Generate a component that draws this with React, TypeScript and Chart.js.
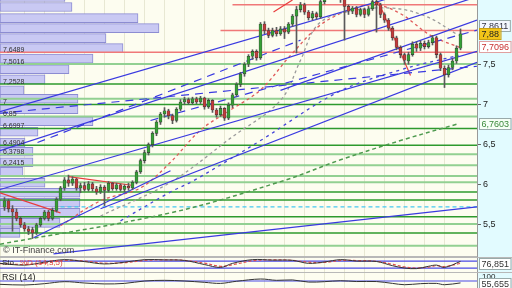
import React, { useEffect, useRef } from "react";
import { Chart, registerables } from "chart.js";

Chart.register(...registerables);

// ---------- price data (daily candles) ----------
const OPEN = [5.72,5.80,5.70,5.66,5.58,5.50,5.45,5.44,5.40,5.50,5.58,5.66,5.58,5.68,5.82,5.96,6.06,6.02,6.07,5.96,5.99,5.94,6.01,5.95,5.91,5.97,5.93,6.02,5.95,6.00,5.94,5.98,5.96,6.03,6.16,6.30,6.40,6.50,6.64,6.78,6.88,6.92,6.86,6.80,6.94,7.03,7.06,7.02,7.07,7.03,7.08,6.97,7.05,6.93,6.87,6.95,6.83,6.99,7.12,7.25,7.38,7.50,7.60,7.66,7.58,8.00,7.92,7.86,7.92,7.88,7.94,7.90,8.00,8.10,8.18,8.24,8.15,8.08,8.13,8.09,8.28,8.37,8.42,8.38,8.35,8.31,8.22,8.16,8.20,8.12,8.18,8.12,8.19,8.28,8.24,8.12,8.05,7.95,7.83,7.71,7.62,7.54,7.62,7.75,7.70,7.76,7.72,7.77,7.83,7.62,7.45,7.37,7.46,7.54,7.70];
const HIGH = [5.84,5.82,5.74,5.70,5.60,5.53,5.48,5.47,5.52,5.60,5.68,5.68,5.71,5.84,5.98,6.09,6.12,6.10,6.08,6.02,6.03,6.04,6.03,5.98,6.00,5.99,6.04,6.03,6.02,6.01,6.00,6.02,6.05,6.18,6.32,6.43,6.52,6.66,6.80,6.90,6.96,6.94,6.88,6.96,7.06,7.09,7.08,7.09,7.09,7.10,7.09,7.07,7.06,6.95,6.98,6.96,7.02,7.14,7.27,7.40,7.52,7.62,7.68,7.68,8.02,8.03,7.95,7.95,7.96,7.97,7.97,8.02,8.12,8.22,8.27,8.26,8.17,8.16,8.15,8.32,8.40,8.46,8.45,8.41,8.38,8.33,8.24,8.22,8.22,8.20,8.20,8.22,8.32,8.36,8.26,8.14,8.07,7.97,7.85,7.73,7.64,7.65,7.78,7.78,7.79,7.79,7.80,7.86,7.85,7.64,7.48,7.49,7.57,7.73,7.94];
const LOW = [5.68,5.66,5.42,5.55,5.47,5.42,5.38,5.33,5.38,5.48,5.56,5.55,5.56,5.66,5.80,5.93,5.98,5.99,5.93,5.90,5.92,5.92,5.92,5.88,5.89,5.74,5.91,5.93,5.93,5.92,5.91,5.93,5.94,6.01,6.14,6.27,6.37,6.47,6.61,6.75,6.84,6.82,6.76,6.78,6.92,7.00,7.00,7.00,7.01,7.01,6.94,6.95,6.90,6.84,6.85,6.80,6.81,6.96,7.10,7.22,7.35,7.47,7.56,7.55,7.56,7.88,7.83,7.84,7.85,7.86,7.82,7.88,7.97,7.64,8.15,8.12,8.05,8.05,8.06,8.07,8.25,8.33,8.34,8.31,8.27,7.80,8.12,8.13,8.09,8.10,8.08,8.10,8.17,7.90,8.08,8.02,7.92,7.80,7.68,7.58,7.50,7.50,7.60,7.66,7.67,7.69,7.70,7.74,7.58,7.42,7.21,7.34,7.43,7.51,7.68];
const CLOSE = [5.80,5.70,5.66,5.58,5.50,5.45,5.42,5.40,5.50,5.58,5.66,5.58,5.68,5.82,5.96,6.06,6.02,6.07,5.96,5.99,5.94,6.01,5.95,5.91,5.97,5.93,6.02,5.95,6.00,5.94,5.98,5.96,6.03,6.16,6.30,6.40,6.50,6.64,6.78,6.88,6.92,6.86,6.80,6.94,7.03,7.06,7.02,7.07,7.03,7.08,6.97,7.05,6.93,6.87,6.95,6.83,6.99,7.12,7.25,7.38,7.50,7.60,7.66,7.58,8.00,7.92,7.86,7.92,7.88,7.94,7.90,8.00,8.10,8.18,8.24,8.15,8.08,8.13,8.09,8.28,8.37,8.42,8.38,8.35,8.31,8.22,8.16,8.20,8.12,8.18,8.12,8.19,8.28,8.24,8.12,8.05,7.95,7.83,7.71,7.62,7.55,7.62,7.75,7.70,7.76,7.72,7.77,7.83,7.62,7.45,7.37,7.46,7.54,7.70,7.88];

// ---------- axis ranges ----------
const X_MIN = -1.125;
const X_MAX = 118.125;
const Y_MIN = 5.1;
const Y_MAX = 8.3;
const Y_TICKS = [5.5, 6, 6.5, 7, 7.5];

// ---------- horizontal levels ----------
const GREEN_MAJOR = [7.2528, 7.0, 6.6997, 6.4904, 5.91, 5.81, 5.6, 5.4];
const GREEN_MINOR = [7.5016, 7.07, 6.85, 6.3798, 6.2415, 6.11, 6.03, 5.51, 5.24];
const RED_LEVELS = [8.24, 7.92, 7.6489];
const RED_FROM = [57, 54, -1.125];
const CYAN_LEVEL = 5.725;
const CYAN_FROM = 14;

// ---------- trend lines [i0, v0, i1, v1] ----------
const BLUE_SOLID = [
  [-1.125, 6.91, 118.125, 8.64],
  [-1.125, 6.425, 118.125, 8.34],
  [-1.125, 5.94, 118.125, 7.66],
  [7.25, 5.34, 41.5, 6.175],
  [24, 5.7, 118.125, 7.525],
  [12.25, 5.14, 118.125, 5.725],
  [69, 7.175, 118.125, 8.05],
];
const BLUE_DASHED = [
  [-1.125, 6.89, 118.125, 7.475],
  [8.25, 6.525, 74, 7.8],
  [36.5, 6.8, 118.125, 7.925],
];
const RED_TRENDS = [
  [16, 6.1, 32.25, 5.99],
  [-1.125, 5.9, 14, 5.65],
  [93.5, 8.275, 101.5, 7.36],
  [67.25, 8.15, 72, 8.3],
];

// ---------- moving averages ----------
const MA20_IDX = [14, 24, 34, 41.5, 49, 56.5, 64, 71.5, 79, 86.5, 92.75, 99, 106.5, 113.75];
const MA20 = [5.49, 5.8, 5.96, 6.28, 6.68, 6.93, 7.18, 7.61, 7.99, 8.18, 8.24, 8.13, 7.86, 7.71];
const MA50_IDX = [24, 41.5, 56.5, 69, 74, 78.25, 85.25, 96.5, 105.25, 113.5];
const MA50 = [5.61, 6.03, 6.58, 7.05, 7.55, 7.99, 8.15, 8.2, 8.1, 7.86];
const MA100_IDX = [29, 41.5, 47.25, 64, 83.25, 99, 113.5];
const MA100 = [5.55, 5.91, 6.05, 6.55, 7.15, 7.43, 7.61];
const MA200_IDX = [-1.125, 41.5, 69.75, 84, 99, 113.5];
const MA200 = [5.26, 5.65, 6.05, 6.31, 6.55, 6.76];

// ---------- volume by price ----------
const VP_PRICE = [8.3375, 8.2125, 8.075, 7.95, 7.825, 7.7, 7.57, 7.4375, 7.3125, 7.175, 7.07, 6.94, 6.79, 6.66, 6.525, 6.41, 6.28, 6.16, 6.025, 5.9, 5.775, 5.65, 5.525, 5.4];
const VP_SIZE = [65, 72, 138, 159, 106, 123, 93, 69, 45, 24, 78, 78, 93, 38, 25, 33, 33, 23, 45, 80, 80, 80, 60, 20];
const VP_LABELS = ["7,6489", "7,5016", "7,2528", "7", "6,85", "6,6997", "6,4904", "6,3798", "6,2415"];
const VP_LABEL_VALUES = [7.6489, 7.5016, 7.2528, 7, 6.85, 6.6997, 6.4904, 6.3798, 6.2415];

// ---------- right-side value tags ----------
const TAG_TEXT = ["7,8611", "7,88", "7,7096", "6,7603"];
const TAG_VALUE = [7.8611, 7.88, 7.7096, 6.7603];

// ---------- stochastic ----------
const STO_IDX = [-1.125, 5, 10, 15, 20, 25, 30, 35, 40, 45, 50, 54, 57, 62, 67, 72, 76, 80, 84, 88, 93, 97, 100, 103, 106, 108, 110, 114];
const STO_K = [60, 45, 70, 92, 75, 55, 70, 92, 90, 85, 50, 25, 60, 92, 88, 86, 60, 72, 92, 80, 76, 40, 20, 15, 35, 45, 25, 76.851];
const STO_D = [58, 50, 62, 85, 80, 62, 66, 85, 90, 86, 62, 35, 48, 82, 90, 86, 70, 68, 85, 84, 78, 52, 30, 20, 28, 40, 32, 60];
const STO_LEVELS = [80, 20];

// ---------- RSI ----------
const RSI_IDX = [-1.125, 5, 10, 15, 20, 25, 30, 35, 40, 45, 50, 54, 58, 64, 68, 72, 76, 80, 84, 88, 93, 97, 100, 104, 108, 110, 114];
const RSI = [45, 40, 50, 65, 55, 48, 52, 70, 75, 70, 60, 52, 68, 85, 75, 78, 62, 65, 72, 66, 66, 52, 42, 50, 52, 42, 55.655];
const RSI_LEVELS = [70];

const FONT = "'Liberation Sans', Arial, sans-serif";
const PLOT_BG = "#fdfdf0";
const SIDE_BG = "#e2fbff";

const seg = (a: number[]) => [{ x: a[0], y: a[1] }, { x: a[2], y: a[3] }];
const pts = (xs: number[], ys: number[]) => xs.map((x, i) => ({ x, y: ys[i] }));

const lineDs = (data: any[], color: string, width: number, dash: number[], order: number, smooth = false) => ({
  type: "line" as const,
  data,
  borderColor: color,
  borderWidth: width,
  borderDash: dash,
  pointRadius: 0,
  fill: false,
  tension: smooth ? 0.35 : 0,
  order,
  xAxisID: "x",
  yAxisID: "y",
});

const xScale = () => ({
  type: "linear",
  min: X_MIN,
  max: X_MAX,
  offset: false,
  ticks: { display: false, stepSize: 5 },
  grid: { color: "#e8e8d3", drawTicks: false, lineWidth: 1, offset: false },
  border: { display: false },
  afterFit: (s: any) => { s.height = 0; },
});

function bgPlugin(id: string) {
  return {
    id,
    beforeDraw(chart: any) {
      const { ctx, chartArea: a, width, height } = chart;
      ctx.save();
      ctx.fillStyle = SIDE_BG;
      ctx.fillRect(0, 0, width, height);
      ctx.fillStyle = PLOT_BG;
      ctx.fillRect(a.left, a.top, a.right - a.left, a.bottom - a.top);
      ctx.restore();
    },
  };
}

function drawTag(ctx: any, x: number, y: number, text: string, bg: string, fg: string, border: string) {
  ctx.font = `9px ${FONT}`;
  const w = ctx.measureText(text).width + 4;
  const top = Math.round(y - 6) + 0.5;
  ctx.fillStyle = bg;
  ctx.fillRect(x, top, w, 11);
  ctx.strokeStyle = border;
  ctx.lineWidth = 1;
  ctx.strokeRect(x + 0.5, top, w, 11);
  ctx.fillStyle = fg;
  ctx.textBaseline = "middle";
  ctx.textAlign = "left";
  ctx.fillText(text, x + 2.5, top + 6);
}

const mainDecor = {
  id: "mainDecor",
  afterDatasetsDraw(chart: any) {
    const { ctx } = chart;
    const ys = chart.scales.y;
    ctx.save();
    ctx.font = `7px ${FONT}`;
    ctx.fillStyle = "#333";
    ctx.textAlign = "left";
    ctx.textBaseline = "bottom";
    VP_LABELS.forEach((t, i) => {
      ctx.fillText(t, 3, ys.getPixelForValue(VP_LABEL_VALUES[i]) + 1);
    });
    ctx.font = `9px ${FONT}`;
    ctx.fillStyle = "#444";
    ctx.textBaseline = "middle";
    ctx.fillText("\u00a9 IT-Finance.com", 3, 251);
    ctx.restore();
  },
  afterDraw(chart: any) {
    const { ctx, chartArea: a } = chart;
    const ys = chart.scales.y;
    ctx.save();
    ctx.strokeStyle = "#b8b8b8";
    ctx.lineWidth = 1;
    ctx.beginPath();
    ctx.moveTo(a.left, a.bottom - 0.5);
    ctx.lineTo(a.right, a.bottom - 0.5);
    ctx.stroke();
    const x = a.right + 2;
    const styles = [
      ["#f4f8ff", "#334", "#9aa"],
      ["#f2c418", "#222", "#c9a010"],
      ["#ffffff", "#c83030", "#e0a0a0"],
      ["#f6fff6", "#3a8a3a", "#9aa"],
    ];
    const y0 = ys.getPixelForValue(TAG_VALUE[0]);
    const y1 = ys.getPixelForValue(TAG_VALUE[1]);
    const pos = [Math.min(y0, y1 - 8), y1, ys.getPixelForValue(TAG_VALUE[2]), ys.getPixelForValue(TAG_VALUE[3])];
    [0, 2, 3, 1].forEach((k) => {
      const s = styles[k];
      drawTag(ctx, x, pos[k], TAG_TEXT[k], s[0], s[1], s[2]);
    });
    ctx.restore();
  },
};

function stoDecor() {
  return {
    id: "stoDecor",
    afterDraw(chart: any) {
      const { ctx, chartArea: a } = chart;
      const ys = chart.scales.y;
      ctx.save();
      ctx.strokeStyle = "#b8b8b8";
      ctx.beginPath();
      ctx.moveTo(0, a.top - 0.5);
      ctx.lineTo(chart.width, a.top - 0.5);
      ctx.stroke();
      ctx.font = `8px ${FONT}`;
      ctx.textBaseline = "middle";
      ctx.fillStyle = "#222";
      ctx.fillText("Sto", 2, a.top + 5);
      ctx.fillStyle = "#e04848";
      ctx.fillText("%D (14,3,5)", 20, a.top + 5);
      const last = STO_K[STO_K.length - 1];
      const y = Math.max(a.top + 6, ys.getPixelForValue(last));
      drawTag(ctx, a.right + 2, y, "76,851", "#ffffff", "#333", "#9aa");
      ctx.restore();
    },
  };
}

function rsiDecor() {
  return {
    id: "rsiDecor",
    afterDraw(chart: any) {
      const { ctx, chartArea: a } = chart;
      const ys = chart.scales.y;
      ctx.save();
      ctx.strokeStyle = "#b8b8b8";
      ctx.beginPath();
      ctx.moveTo(0, a.top - 0.5);
      ctx.lineTo(chart.width, a.top - 0.5);
      ctx.stroke();
      ctx.font = `9px ${FONT}`;
      ctx.textBaseline = "middle";
      ctx.fillStyle = "#222";
      ctx.fillText("RSI (14)", 2, a.top + 5);
      ctx.font = `8px ${FONT}`;
      ctx.fillText("100", a.right + 5, ys.getPixelForValue(100));
      const last = RSI[RSI.length - 1];
      drawTag(ctx, a.right + 2, ys.getPixelForValue(last) + 1, "55,655", "#ffffff", "#333", "#9aa");
      ctx.restore();
    },
  };
}

function buildMain(canvas: HTMLCanvasElement) {
  const up = CLOSE.map((c, i) => c >= OPEN[i]);
  const datasets: any[] = [];
  // volume-by-price histogram
  datasets.push({
    type: "bar",
    indexAxis: "y",
    data: VP_PRICE.map((p, i) => ({ x: VP_SIZE[i], y: p })),
    backgroundColor: "#c9c9f3",
    borderColor: "#8c8cd2",
    borderWidth: 1,
    borderSkipped: false,
    barThickness: 9,
    grouped: false,
    order: 100,
    xAxisID: "xv",
    yAxisID: "y",
  });
  GREEN_MINOR.forEach((v) => datasets.push(lineDs(seg([X_MIN, v, X_MAX, v]), "#92d092", 2, [], 60)));
  GREEN_MAJOR.forEach((v) => datasets.push(lineDs(seg([X_MIN, v, X_MAX, v]), "#2e9a2e", 1.5, [], 59)));
  datasets.push(lineDs(seg([CYAN_FROM, CYAN_LEVEL, X_MAX, CYAN_LEVEL]), "#44c8f0", 1.2, [4, 3], 58));
  RED_LEVELS.forEach((v, i) => datasets.push(lineDs(seg([RED_FROM[i], v, X_MAX, v]), "#f07878", 1.5, [], 57)));
  datasets.push(lineDs(pts(MA200_IDX, MA200), "#4f9a4f", 1.5, [4, 3], 40, true));
  datasets.push(lineDs(pts(MA100_IDX, MA100), "#4646d8", 1.3, [3, 4], 40, true));
  datasets.push(lineDs(pts(MA50_IDX, MA50), "#9c9c9c", 1.3, [3, 3], 40, true));
  datasets.push(lineDs(pts(MA20_IDX, MA20), "#e05a5a", 1.3, [3, 3], 40, true));
  BLUE_SOLID.forEach((l) => datasets.push(lineDs(seg(l), "#3a3ae0", 1.2, [], 20)));
  BLUE_DASHED.forEach((l) => datasets.push(lineDs(seg(l), "#3a3ae0", 1.2, [8, 6], 20)));
  RED_TRENDS.forEach((l) => datasets.push(lineDs(seg(l), "#e83c3c", 1.2, [], 20)));
  // candles
  datasets.push({
    type: "bar",
    data: CLOSE.map((_, i) => ({ x: i, y: [LOW[i], HIGH[i]] })),
    backgroundColor: "#5a5a5a",
    barThickness: 1,
    grouped: false,
    order: 2,
    xAxisID: "x",
    yAxisID: "y",
  });
  datasets.push({
    type: "bar",
    data: CLOSE.map((c, i) => ({ x: i, y: [OPEN[i], c] })),
    backgroundColor: up.map((u) => (u ? "#35a035" : "#c43a3a")),
    borderColor: "#3a3a3a",
    borderWidth: 0.6,
    borderSkipped: false,
    barThickness: 3,
    grouped: false,
    order: 1,
    xAxisID: "x",
    yAxisID: "y",
  });

  return new Chart(canvas, {
    type: "line",
    data: { datasets },
    options: {
      animation: false,
      responsive: false,
      devicePixelRatio: 1,
      events: [],
      layout: { padding: 0, autoPadding: false },
      plugins: { legend: { display: false }, tooltip: { enabled: false } },
      scales: {
        x: xScale(),
        xv: { type: "linear", axis: "x", min: 0, max: 477, display: false, offset: false },
        y: {
          type: "linear",
          position: "right",
          min: Y_MIN,
          max: Y_MAX,
          offset: false,
          afterBuildTicks: (s: any) => { s.ticks = Y_TICKS.map((v) => ({ value: v })); },
          afterFit: (s: any) => { s.width = 35; s.paddingTop = 0; s.paddingBottom = 0; },
          ticks: {
            font: { family: FONT, size: 9 },
            color: "#222",
            padding: 2,
            callback: (v: any) => String(v).replace(".", ","),
          },
          grid: { drawOnChartArea: false, tickLength: 4, color: "#666", offset: false },
          border: { display: true, color: "#999" },
        },
      },
    } as any,
    plugins: [bgPlugin("mainBg"), mainDecor],
  });
}

function buildPanel(canvas: HTMLCanvasElement, datasets: any[], min: number, max: number, decor: any, bgId: string) {
  return new Chart(canvas, {
    type: "line",
    data: { datasets },
    options: {
      animation: false,
      responsive: false,
      devicePixelRatio: 1,
      events: [],
      layout: { padding: { top: 1 }, autoPadding: false },
      plugins: { legend: { display: false }, tooltip: { enabled: false } },
      scales: {
        x: xScale(),
        y: {
          type: "linear",
          position: "right",
          min,
          max,
          offset: false,
          afterFit: (s: any) => { s.width = 35; s.paddingTop = 0; s.paddingBottom = 0; },
          ticks: { display: false },
          grid: { display: false },
          border: { display: true, color: "#999" },
        },
      },
    } as any,
    plugins: [bgPlugin(bgId), decor],
  });
}

export default function App() {
  const mainRef = useRef<HTMLCanvasElement>(null);
  const stoRef = useRef<HTMLCanvasElement>(null);
  const rsiRef = useRef<HTMLCanvasElement>(null);

  useEffect(() => {
    const charts: Chart[] = [];
    if (mainRef.current) charts.push(buildMain(mainRef.current));
    if (stoRef.current) {
      const ds = [
        ...STO_LEVELS.map((v) => lineDs(seg([X_MIN, v, X_MAX, v]), "#4a4ae6", 1.2, [], 10)),
        lineDs(pts(STO_IDX, STO_D), "#e25050", 1.2, [3, 2], 5, true),
        lineDs(pts(STO_IDX, STO_K), "#333333", 1, [], 4, true),
      ];
      charts.push(buildPanel(stoRef.current, ds, -14, 106, stoDecor(), "stoBg"));
    }
    if (rsiRef.current) {
      const ds = [
        ...RSI_LEVELS.map((v) => lineDs(seg([X_MIN, v, X_MAX, v]), "#4a4ae6", 1.2, [], 10)),
        lineDs(pts(RSI_IDX, RSI), "#333333", 1, [], 4, true),
      ];
      charts.push(buildPanel(rsiRef.current, ds, 17.5, 130, rsiDecor(), "rsiBg"));
    }
    return () => charts.forEach((c) => c.destroy());
  }, []);

  return (
    <div style={{ position: "fixed", left: 0, top: 0, width: 512, height: 288, background: SIDE_BG, overflow: "hidden" }}>
      <canvas ref={mainRef} width={512} height={257} style={{ position: "absolute", left: 0, top: 0 }} />
      <canvas ref={stoRef} width={512} height={15} style={{ position: "absolute", left: 0, top: 257 }} />
      <canvas ref={rsiRef} width={512} height={16} style={{ position: "absolute", left: 0, top: 272 }} />
    </div>
  );
}
